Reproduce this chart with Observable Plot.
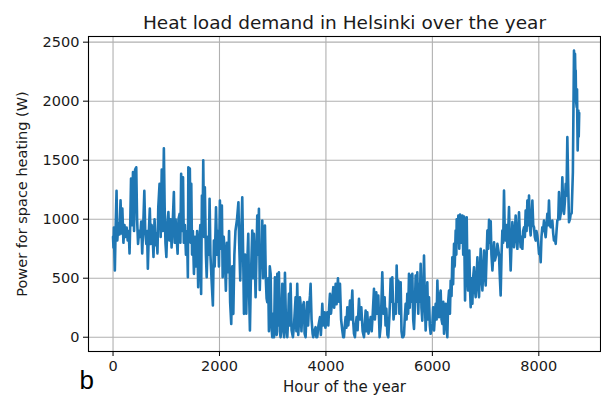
<!DOCTYPE html>
<html>
<head>
<meta charset="utf-8">
<script src="https://cdn.jsdelivr.net/npm/d3@7"></script>
<script src="https://cdn.jsdelivr.net/npm/@observablehq/plot@0.6"></script>
<style>
  html, body { margin: 0; padding: 0; background: #fff; }
  #chart svg { display: block; }
</style>
</head>
<body>
<div id="chart"></div>
<script>
// Hour of the year for each sampled point (peaks and troughs of the hourly load)
const hours = [
  0, 8, 16, 25, 34, 48, 66, 80, 100, 120, 141, 160, 175, 195, 215, 235, 255, 275, 295, 310,
  325, 338, 355, 375, 395, 415, 436, 452, 470, 490, 510, 530, 548, 568, 588, 605, 625, 640, 654, 672,
  691, 708, 725, 745, 760, 780, 800, 815, 835, 850, 874, 895, 915, 935, 955, 970, 985, 1002, 1020, 1040,
  1060, 1080, 1100, 1120, 1143, 1160, 1175, 1195, 1213, 1230, 1250, 1265, 1280, 1300, 1315, 1330, 1350, 1370, 1390, 1406,
  1415, 1428, 1443, 1458, 1470, 1485, 1500, 1520, 1540, 1560, 1580, 1600, 1620, 1640, 1655, 1670, 1683, 1695, 1710, 1725,
  1745, 1760, 1780, 1800, 1814, 1830, 1850, 1876, 1895, 1910, 1935, 1955, 1975, 1990, 2008, 2030, 2045, 2060, 2080, 2100,
  2120, 2140, 2160, 2180, 2200, 2221, 2240, 2260, 2280, 2300, 2330, 2356, 2370, 2390, 2410, 2428, 2445, 2460, 2480, 2503,
  2520, 2541, 2555, 2572, 2590, 2616, 2630, 2647, 2665, 2679, 2695, 2710, 2725, 2741, 2757, 2775, 2790, 2804, 2820, 2838,
  2854, 2870, 2885, 2898, 2915, 2929, 2945, 2961, 2975, 2992, 3010, 3025, 3042, 3060, 3075, 3086, 3100, 3117, 3133, 3149,
  3165, 3180, 3200, 3215, 3230, 3250, 3274, 3290, 3305, 3320, 3336, 3355, 3380, 3400, 3430, 3445, 3461, 3480, 3495, 3511,
  3524, 3540, 3560, 3586, 3600, 3618, 3635, 3649, 3665, 3680, 3700, 3712, 3730, 3750, 3762, 3780, 3806, 3820, 3837, 3860,
  3888, 3905, 3920, 3932, 3950, 3976, 3990, 4010, 4026, 4045, 4060, 4076, 4095, 4115, 4139, 4155, 4170, 4183, 4200, 4226,
  4245, 4264, 4285, 4308, 4325, 4339, 4355, 4370, 4385, 4402, 4420, 4437, 4452, 4470, 4496, 4510, 4527, 4545, 4560, 4577,
  4595, 4621, 4640, 4665, 4690, 4715, 4730, 4746, 4760, 4777, 4800, 4820, 4840, 4860, 4880, 4903, 4920, 4946, 4965, 4984,
  5009, 5030, 5059, 5080, 5103, 5120, 5135, 5155, 5172, 5195, 5216, 5230, 5247, 5270, 5298, 5315, 5329, 5345, 5360, 5380,
  5404, 5420, 5435, 5450, 5467, 5480, 5498, 5515, 5529, 5545, 5561, 5575, 5592, 5610, 5623, 5640, 5655, 5670, 5686, 5700,
  5717, 5735, 5749, 5765, 5780, 5795, 5811, 5828, 5843, 5860, 5874, 5890, 5905, 5920, 5937, 5952, 5968, 6000, 6015, 6031,
  6062, 6080, 6094, 6110, 6125, 6140, 6156, 6172, 6188, 6205, 6219, 6235, 6250, 6265, 6281, 6297, 6313, 6330, 6344, 6360,
  6375, 6390, 6407, 6420, 6438, 6450, 6457, 6470, 6488, 6505, 6520, 6540, 6564, 6580, 6595, 6614, 6630, 6645, 6660, 6670,
  6683, 6695, 6708, 6720, 6735, 6752, 6765, 6783, 6800, 6814, 6830, 6846, 6860, 6877, 6890, 6908, 6925, 6940, 6955, 6971,
  6985, 7002, 7020, 7034, 7050, 7065, 7080, 7096, 7110, 7128, 7145, 7159, 7175, 7190, 7205, 7222, 7252, 7265, 7283, 7300,
  7315, 7330, 7346, 7360, 7377, 7395, 7409, 7425, 7440, 7455, 7471, 7488, 7503, 7520, 7534, 7550, 7565, 7580, 7597, 7612,
  7628, 7645, 7659, 7675, 7691, 7705, 7722, 7738, 7753, 7770, 7785, 7800, 7816, 7830, 7847, 7863, 7879, 7895, 7910, 7925,
  7941, 7955, 7972, 7988, 8004, 8020, 8035, 8050, 8066, 8080, 8097, 8112, 8129, 8145, 8160, 8175, 8191, 8207, 8223, 8238,
  8254, 8270, 8285, 8300, 8317, 8333, 8348, 8365, 8379, 8395, 8411, 8427, 8442, 8458, 8473, 8490, 8505, 8520, 8536, 8552,
  8567, 8585, 8599, 8617, 8640, 8661, 8670, 8680, 8688, 8693, 8700, 8712, 8718, 8724, 8730, 8736, 8743, 8750, 8759
];

// Power for space heating (W) at those hours
const heatLoadW = [
  850, 760, 930, 720, 565, 900, 1240, 820, 960, 870, 1160, 880, 1090, 800, 950, 850, 930, 820, 900, 710,
  1000, 1345, 950, 1400, 900, 1420, 1440, 1000, 790, 900, 850, 980, 710, 950, 1240, 900, 790, 900, 580, 880,
  1090, 790, 950, 850, 680, 1000, 780, 880, 710, 1100, 1300, 850, 1420, 900, 1600, 1100, 800, 680, 950, 1060,
  820, 1000, 760, 950, 1230, 800, 1000, 850, 707, 1000, 1045, 800, 1385, 900, 1356, 800, 950, 700, 900, 508,
  1440, 900, 1430, 800, 1300, 700, 900, 537, 850, 600, 900, 424, 800, 950, 367, 1200, 900, 1500, 850, 1271,
  700, 508, 850, 700, 1173, 700, 500, 269, 820, 600, 1100, 700, 900, 600, 1158, 750, 1116, 508, 850, 700,
  395, 800, 550, 900, 300, 113, 600, 198, 700, 900, 1000, 1144, 800, 480, 900, 1186, 700, 198, 700, 200,
  600, 876, 400, 57, 500, 904, 500, 876, 600, 339, 700, 1031, 700, 1088, 400, 700, 600, 989, 500, 700,
  946, 500, 330, 297, 500, 50, 600, 537, 100, 0, 200, 0, 508, 100, 20, 537, 100, 550, 50, 0,
  200, 452, 50, 0, 545, 100, 0, 150, 367, 100, 452, 60, 0, 100, 339, 50, 452, 20, 150, 339,
  283, 50, 250, 297, 30, 0, 200, 297, 100, 250, 350, 452, 150, 30, 0, 50, 85, 0, 0, 100,
  170, 20, 150, 283, 100, 212, 80, 150, 212, 100, 250, 367, 200, 300, 424, 250, 350, 452, 280, 500,
  300, 452, 150, 57, 0, 0, 100, 170, 80, 254, 100, 200, 311, 150, 396, 150, 30, 0, 100, 170,
  60, 325, 150, 254, 50, 0, 100, 226, 50, 212, 30, 100, 170, 50, 200, 410, 150, 381, 200, 353,
  0, 100, 551, 200, 339, 100, 240, 20, 0, 200, 495, 300, 508, 150, 283, 200, 608, 300, 480, 200,
  466, 50, 0, 0, 20, 150, 283, 150, 367, 200, 537, 250, 523, 300, 537, 150, 71, 250, 523, 300,
  551, 200, 452, 300, 622, 250, 141, 400, 692, 300, 57, 250, 466, 150, 339, 100, 29, 113, 254, 57,
  283, 150, 480, 200, 170, 350, 396, 150, 113, 300, 29, 200, 283, 100, 0, 300, 396, 200, 480, 350,
  678, 450, 791, 600, 904, 700, 1000, 800, 1031, 750, 1040, 800, 1031, 700, 1023, 311, 800, 1017, 500, 396,
  600, 735, 400, 254, 500, 283, 500, 593, 400, 339, 500, 678, 450, 339, 550, 749, 500, 396, 550, 735,
  550, 438, 700, 904, 750, 995, 800, 983, 700, 565, 700, 805, 650, 678, 700, 791, 700, 537, 353, 700,
  904, 800, 1243, 900, 819, 950, 763, 900, 1102, 800, 565, 800, 975, 850, 763, 900, 1031, 850, 749, 900,
  1059, 850, 763, 850, 749, 900, 932, 850, 1074, 900, 1158, 950, 1201, 950, 862, 1000, 1158, 950, 932, 850,
  819, 900, 862, 800, 706, 750, 636, 850, 932, 900, 989, 900, 847, 950, 1045, 950, 1158, 950, 932, 950,
  989, 880, 819, 850, 791, 900, 989, 1000, 1229, 1000, 1045, 1100, 1356, 1100, 1045, 1150, 1300, 1200, 1695, 1300,
  975, 1000, 1045, 1050, 1400, 2430, 2300, 2401, 2200, 2260, 2000, 1949, 2100, 1808, 1582, 1700, 1921, 1700, 1900
];

const xTicks = [0, 2000, 4000, 6000, 8000];
const yTicks = [0, 500, 1000, 1500, 2000, 2500];

const titleText = "Heat load demand in Helsinki over the year";
const xLabel = "Hour of the year";
const yLabel = "Power for space heating (W)";
const panelTag = "b";

const series = hours.map((h, i) => ({hour: h, load: heatLoadW[i]}));

const textColor = "#1a1a1a";
const gridColor = "#b0b0b0";
const lineColor = "#1f77b4";
const plain = (d) => String(d);

const chart = Plot.plot({
  width: 601,
  height: 399,
  marginLeft: 88,
  marginRight: 1,
  marginTop: 36,
  marginBottom: 48,
  style: {fontFamily: "DejaVu Sans", fontSize: "15px", color: textColor, background: "#fff"},
  x: {domain: [-461, 9159]},
  y: {domain: [-121, 2548]},
  marks: [
    Plot.gridX(xTicks, {stroke: gridColor, strokeOpacity: 1, strokeWidth: 1.1}),
    Plot.gridY(yTicks, {stroke: gridColor, strokeOpacity: 1, strokeWidth: 1.1}),
    Plot.line(series, {x: "hour", y: "load", stroke: lineColor, strokeWidth: 2.6, strokeLinejoin: "round"}),
    Plot.frame({stroke: "#000", strokeWidth: 1.1}),
    Plot.axisX(xTicks, {tickSize: 5, tickPadding: 4, fontSize: 14.5, label: null, tickFormat: plain, stroke: "#000", fill: textColor}),
    Plot.axisY(yTicks, {tickSize: 5, tickPadding: 4, fontSize: 14.5, label: null, tickFormat: plain, stroke: "#000", fill: textColor}),
    Plot.text([titleText], {frameAnchor: "top", dy: -21, fontSize: 18.5, fill: textColor}),
    Plot.text([xLabel], {frameAnchor: "bottom", dy: 40, fontSize: 15, fill: textColor}),
    Plot.text([yLabel], {frameAnchor: "left", dx: -66, rotate: -90, textAnchor: "middle", fontSize: 14.5, fill: textColor}),
    Plot.text([panelTag], {frameAnchor: "bottom-left", dx: -9, dy: 37, fontSize: 26, fill: "#000", fontFamily: "Liberation Sans"})
  ]
});

document.getElementById("chart").appendChild(chart);
</script>
</body>
</html>
